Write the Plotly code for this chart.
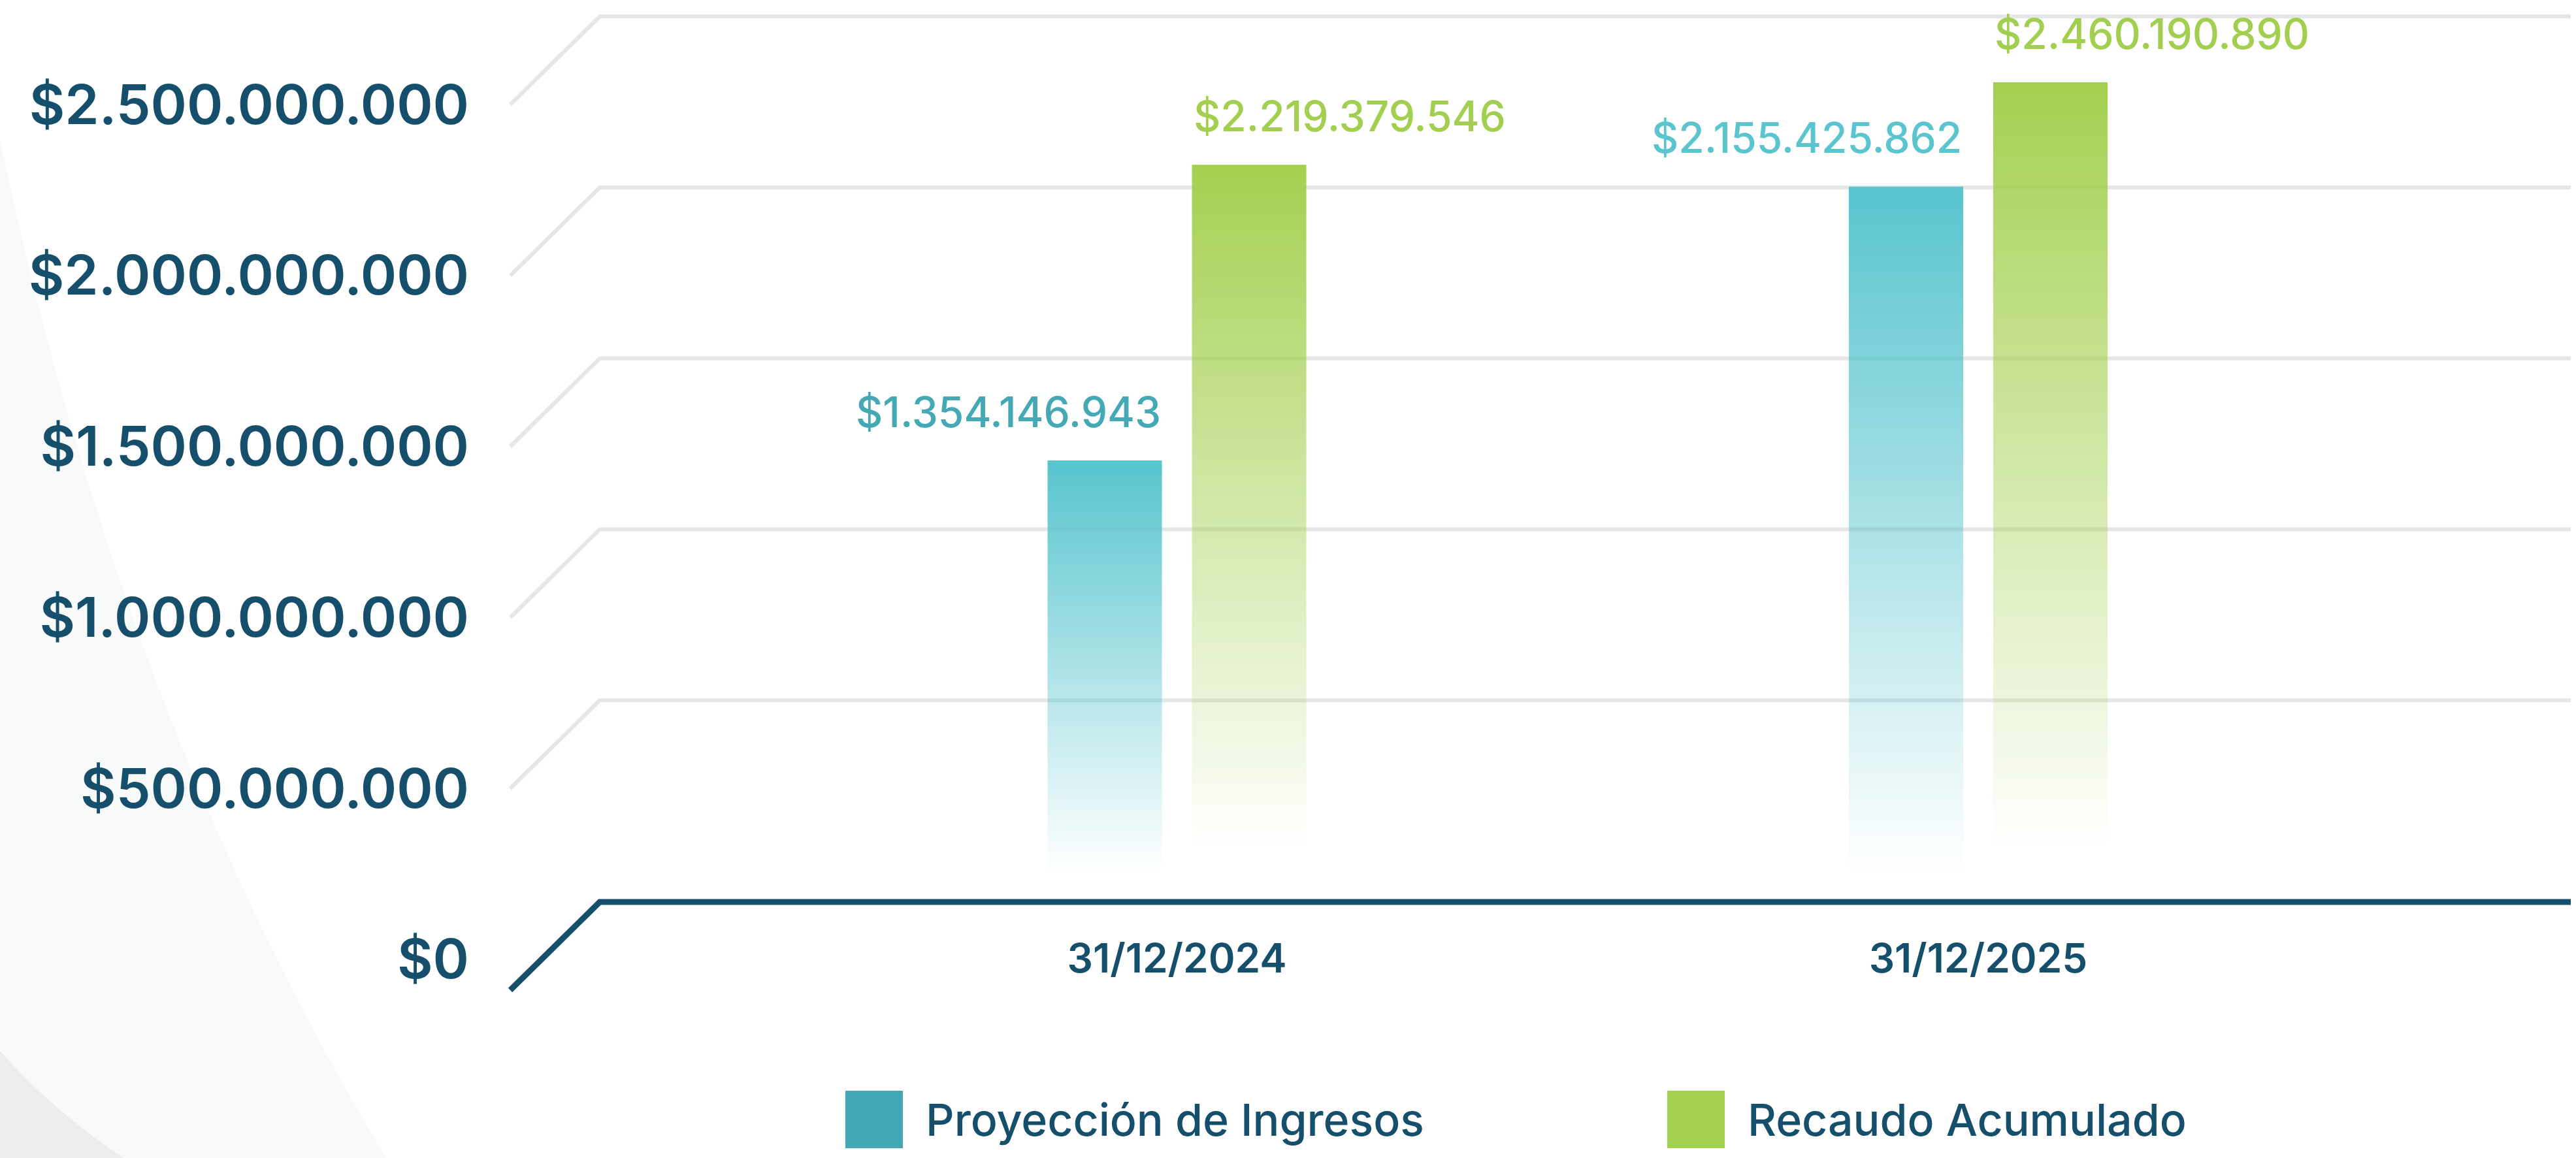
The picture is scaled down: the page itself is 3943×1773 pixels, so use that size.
import plotly.graph_objects as go

# ---------------- data ----------------
categories = ["31/12/2024", "31/12/2025"]
series_names = ["Proyección de Ingresos", "Recaudo Acumulado"]
proyeccion = [1354146943, 2155425862]
recaudo = [2219379546, 2460190890]
y_tickvals = [0, 500000000, 1000000000, 1500000000, 2000000000, 2500000000]
y_ticktext = ["$0", "$500.000.000", "$1.000.000.000", "$1.500.000.000",
              "$2.000.000.000", "$2.500.000.000"]

# ---------------- style ----------------
W, H = 3943, 1773
PLOT_H = 1600           # plot area height in px (bottom margin = H - PLOT_H)
DARK = "#154f6c"
GRID = "#e6e6e6"
FONT = "Inter, 'Open Sans', sans-serif"
series_rgb = [(87, 196, 206), (163, 208, 80)]
legend_colors = ["#44a7b5", "#a3d14f"]
label_colors = [["#45a8b5", "#5ac5ce"], ["#a3cf50", "#a3cf50"]]
fade_to = [0.15e9, 0.22e9]      # value where the bar gradient becomes transparent
bar_w = 0.1427
bar_gap = 0.0375
offsets = [-(bar_w + bar_gap) / 2, (bar_w + bar_gap) / 2]


def px(x):
    return x / W


def py(y):
    return (PLOT_H - y) / PLOT_H


def fmt(v):
    return "$" + f"{v:,}".replace(",", ".")


fig = go.Figure()

# ---------------- decorative background ----------------
fig.add_shape(type="path", xref="paper", yref="paper", layer="below",
              path=f"M {px(0)},{py(214)} Q {px(185)},{py(1100)} {px(591)},{py(1773)} "
                   f"L {px(0)},{py(1773)} Z",
              fillcolor="#f8f9f9", line=dict(width=0))
fig.add_shape(type="path", xref="paper", yref="paper", layer="below",
              path=f"M {px(0)},{py(1609)} Q {px(80)},{py(1700)} {px(189)},{py(1773)} "
                   f"L {px(0)},{py(1773)} Z",
              fillcolor="#ededed", line=dict(width=0))

# ---------------- perspective grid ----------------
for t in y_tickvals:
    if t == 0:
        path = f"M {px(781)},-102 L {px(918)},33 L {px(3935)},33"
        fig.add_shape(type="path", xref="paper", yref="y", ysizemode="pixel", yanchor=t,
                      path=path, line=dict(color=DARK, width=9), layer="below")
    else:
        path = f"M {px(781)},-55 L {px(918)},80 L {px(3935)},80"
        fig.add_shape(type="path", xref="paper", yref="y", ysizemode="pixel", yanchor=t,
                      path=path, line=dict(color=GRID, width=6), layer="below")

# ---------------- bars (gradient filled) ----------------
for s, vals in enumerate([proyeccion, recaudo]):
    r, g, b = series_rgb[s]
    for i, v in enumerate(vals):
        c = i + offsets[s]
        x0, x1 = c - bar_w / 2, c + bar_w / 2
        fig.add_trace(go.Scatter(
            x=[x0, x0, x1, x1, x0], y=[0, v, v, 0, 0],
            mode="lines", line=dict(width=0), fill="toself",
            fillgradient=dict(type="vertical", start=fade_to[s], stop=v,
                              colorscale=[[0, f"rgba({r},{g},{b},0)"],
                                          [1, f"rgba({r},{g},{b},1)"]]),
            name=series_names[s], legendgroup=series_names[s], showlegend=False,
            hoverinfo="skip"))
        fig.add_annotation(
            x=x1 if s == 0 else x0, y=v, xref="x", yref="y", text=fmt(v),
            showarrow=False, xanchor="right" if s == 0 else "left", yanchor="middle",
            yshift=75,
            font=dict(family=FONT, size=64, color=label_colors[s][i], weight=500))

# ---------------- legend (drawn) ----------------
legend_x = [1294, 2552]
for s, name in enumerate(series_names):
    fig.add_shape(type="rect", xref="paper", yref="paper",
                  x0=px(legend_x[s]), x1=px(legend_x[s] + 88), y0=py(1670), y1=py(1758),
                  fillcolor=legend_colors[s], line=dict(width=0))
    fig.add_annotation(x=px(legend_x[s] + 121), y=py(1714), xref="paper", yref="paper",
                       text=name, showarrow=False, xanchor="left", yanchor="middle",
                       font=dict(family=FONT, size=68, color=DARK, weight=500))

# ---------------- axes ----------------
unit = 1226.5
r0 = -1801.5 / unit
r1 = r0 + W / unit
fig.update_layout(
    width=W, height=H,
    margin=dict(l=0, r=0, t=0, b=H - PLOT_H),
    paper_bgcolor="white", plot_bgcolor="rgba(0,0,0,0)",
    showlegend=False, hovermode=False,
    xaxis=dict(range=[r0, r1], domain=[0, 1], anchor="free", position=py(1414),
               tickvals=[0, 1], ticktext=categories, showgrid=False, zeroline=False,
               showline=False, ticks="", automargin=False, fixedrange=True,
               ticklabelstandoff=12,
               tickfont=dict(family=FONT, size=62, color=DARK, weight=600)),
    yaxis=dict(range=[-186 / 523.5 * 1e9, 1414 / 523.5 * 1e9], domain=[0, 1],
               anchor="free", position=px(718), tickvals=y_tickvals, ticktext=y_ticktext,
               ticklabelshift=55, showgrid=False, zeroline=False, showline=False,
               ticks="", automargin=False, fixedrange=True,
               tickfont=dict(family=FONT, size=84, color=DARK, weight=600)),
)

fig.write_html("out.html", config={"displayModeBar": False},
               post_script="document.body.style.margin='0';document.body.style.overflow='hidden';")
